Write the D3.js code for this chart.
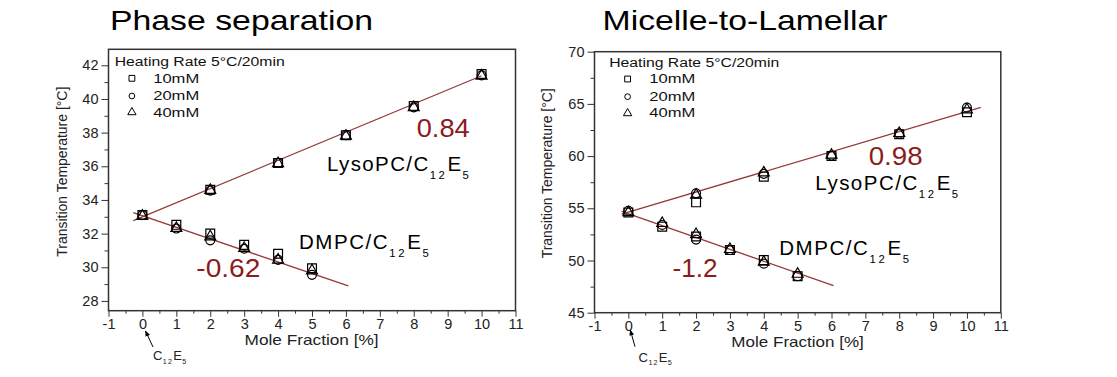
<!DOCTYPE html>
<html>
<head>
<meta charset="utf-8">
<script src="https://cdn.jsdelivr.net/npm/d3@7"></script>
<style>
body { margin: 0; background: #fff; }
svg { display: block; }
text { font-family: "Liberation Sans", Arial, sans-serif; }
</style>
</head>
<body>
<script>
var w = 1117;
var h = 377;

// mole fraction positions (%)
var lysoX = [0, 2, 4, 6, 8, 10];
var dmpcX = [1, 2, 3, 4, 5];
var xTicks = d3.range(-1, 12);
var xMinor = d3.range(-0.5, 11, 1);
var seriesNames = ["10mM", "20mM", "40mM"];

// Phase separation (left)
var sepLyso10 = [33.1, 34.6, 36.2, 37.85, 39.58, 41.48];
var sepLyso20 = [33.1, 34.55, 36.2, 37.85, 39.5, 41.4];
var sepLyso40 = [33.05, 34.58, 36.17, 37.8, 39.5, 41.37];
var sepDmpc10 = [32.52, 32.0, 31.33, 30.8, 29.94];
var sepDmpc20 = [32.3, 31.6, 31.1, 30.44, 29.55];
var sepDmpc40 = [32.32, 31.82, 31.13, 30.44, 29.8];
var sepLysoFit = [[-0.27, 32.77], [10, 41.38]];
var sepDmpcFit = [[-0.27, 33.25], [6.07, 28.89]];
var sepYTicks = d3.range(28, 43, 2);
var sepYMinor = d3.range(29, 43, 2);

// Micelle-to-Lamellar (right)
var micLyso10 = [54.6, 55.57, 58.03, 60.0, 62.1, 64.2];
var micLyso20 = [54.77, 56.43, 58.3, 60.05, 62.15, 64.64];
var micLyso40 = [54.6, 56.27, 58.41, 60.1, 62.18, 64.45];
var micDmpc10 = [53.24, 52.3, 51.0, 50.04, 48.5];
var micDmpc20 = [53.4, 52.0, 51.0, 49.7, 48.5];
var micDmpc40 = [53.56, 52.5, 51.07, 49.85, 48.7];
var micLysoFit = [[-0.2, 54.45], [10.41, 64.67]];
var micDmpcFit = [[-0.2, 54.7], [6.06, 47.59]];
var micYTicks = d3.range(45, 71, 5);
var micYMinor = d3.range(47.5, 70, 5);

var svg = d3.select("body").append("svg")
    .attr("width", w)
    .attr("height", h);

svg.append("defs").append("marker")
    .attr("id", "arrow")
    .attr("viewBox", "0 0 10 10")
    .attr("refX", 9).attr("refY", 5)
    .attr("markerWidth", 6).attr("markerHeight", 6)
    .attr("orient", "auto")
    .append("path")
    .attr("d", "M0,1 L10,5 L0,9 Z")
    .attr("fill", "#000");

var symbols = [d3.symbolSquare, d3.symbolCircle, d3.symbolTriangle];
var plotSizes = [78, 62, 52];
var legendSizes = [34, 26, 30];

// text with subscripts at odd positions
function formula(g, x, y, size, parts, len, subDy) {
    var t = g.append("text").attr("x", x).attr("y", y).attr("font-size", size).attr("fill", "#000");
    parts.forEach(function(s, i) {
        var sub = i % 2 === 1;
        t.append("tspan").text(s)
            .attr("font-size", sub ? size * 0.55 : size)
            .attr("dy", sub ? subDy : (i > 0 ? -subDy : 0))
            .attr("letter-spacing", sub ? size * 0.06 : 0);
    });
    if (len) t.attr("textLength", len).attr("lengthAdjust", "spacing");
    return t;
}

function styleAxis(a) {
    a.select(".domain").remove();
    a.attr("font-size", 14.5).attr("font-family", "Liberation Sans");
    a.selectAll("text").attr("fill", "#222");
}

function drawPanel(p) {
    var x = d3.scaleLinear().domain([-1, 11]).range([p.left, p.right]);
    var y = d3.scaleLinear().domain(p.yDomain).range([p.bottom, p.top]);
    var g = svg.append("g");

    // title
    g.append("text")
        .attr("x", p.titleX).attr("y", 30)
        .attr("font-family", "DejaVu Sans")
        .attr("font-size", 28)
        .attr("textLength", p.titleLen)
        .attr("lengthAdjust", "spacingAndGlyphs")
        .text(p.title);

    // axes
    var axisColor = "#333";
    g.append("g").attr("transform", "translate(0," + p.bottom + ")")
        .attr("color", axisColor)
        .call(d3.axisBottom(x).tickValues(xMinor).tickSize(3).tickFormat(""))
        .call(styleAxis);
    g.append("g").attr("transform", "translate(0," + p.bottom + ")")
        .attr("color", axisColor)
        .call(d3.axisBottom(x).tickValues(xTicks).tickSize(6).tickPadding(2).tickFormat(function(d) { return String(d); }))
        .call(styleAxis);
    g.append("g").attr("transform", "translate(" + p.left + ",0)")
        .attr("color", axisColor)
        .call(d3.axisLeft(y).tickValues(p.yMinor).tickSize(4).tickFormat(""))
        .call(styleAxis);
    g.append("g").attr("transform", "translate(" + p.left + ",0)")
        .attr("color", axisColor)
        .call(d3.axisLeft(y).tickValues(p.yTicks).tickSize(7).tickPadding(3).tickFormat(function(d) { return String(d); }))
        .call(styleAxis);

    g.append("rect")
        .attr("x", p.left).attr("y", p.top)
        .attr("width", p.right - p.left).attr("height", p.bottom - p.top)
        .attr("fill", "none").attr("stroke", axisColor).attr("stroke-width", 1.5);

    // axis titles
    g.append("text")
        .attr("transform", "translate(" + p.yLabel[0] + "," + p.yLabel[1] + ") rotate(-90)")
        .attr("text-anchor", "middle").attr("dy", "0.35em")
        .attr("font-size", 14).attr("fill", "#222")
        .attr("textLength", 170).attr("lengthAdjust", "spacingAndGlyphs")
        .text("Transition Temperature [°C]");
    g.append("text")
        .attr("x", p.xLabel[0]).attr("y", p.xLabel[1])
        .attr("text-anchor", "middle")
        .attr("font-size", 15).attr("fill", "#222")
        .attr("textLength", p.xLabel[2]).attr("lengthAdjust", "spacingAndGlyphs")
        .text("Mole Fraction [%]");

    // C12E5 pointer
    g.append("line")
        .attr("x1", p.arrow[0]).attr("y1", p.arrow[1])
        .attr("x2", p.arrow[2]).attr("y2", p.arrow[3])
        .attr("stroke", "#000").attr("stroke-width", 1)
        .attr("marker-end", "url(#arrow)");
    formula(g, p.pure[0], p.pure[1], 13, ["C", "12", "E", "5"], 34, 3.5).attr("fill", "#222");

    // fit lines
    var line = d3.line().x(function(d) { return x(d[0]); }).y(function(d) { return y(d[1]); });
    [p.lysoFit, p.dmpcFit].forEach(function(f) {
        g.append("path").attr("d", line(f))
            .attr("fill", "none").attr("stroke", "#963838").attr("stroke-width", 1.3);
    });

    // markers
    function drawSeries(xs, sets) {
        sets.forEach(function(vals, k) {
            g.selectAll(null)
                .data(vals.map(function(v, i) { return [xs[i], v]; }))
                .enter().append("path")
                .attr("d", d3.symbol().type(symbols[k]).size(plotSizes[k]))
                .attr("transform", function(d) { return "translate(" + x(d[0]) + "," + y(d[1]) + ")"; })
                .attr("fill", "none").attr("stroke", "#000").attr("stroke-width", 1.2);
        });
    }
    drawSeries(lysoX, p.lyso);
    drawSeries(dmpcX, p.dmpc);

    // legend
    g.append("text")
        .attr("x", p.legend.x).attr("y", p.legend.y)
        .attr("font-size", 12).attr("fill", "#111")
        .attr("textLength", 170).attr("lengthAdjust", "spacingAndGlyphs")
        .text("Heating Rate 5°C/20min");
    seriesNames.forEach(function(name, k) {
        g.append("path")
            .attr("d", d3.symbol().type(symbols[k]).size(legendSizes[k]))
            .attr("transform", "translate(" + p.legend.sx + "," + p.legend.sy[k] + ")")
            .attr("fill", "none").attr("stroke", "#000").attr("stroke-width", 1);
        g.append("text")
            .attr("x", p.legend.tx).attr("y", p.legend.ty[k])
            .attr("font-size", 12).attr("fill", "#111")
            .attr("textLength", 46).attr("lengthAdjust", "spacingAndGlyphs")
            .text(name);
    });

    // annotations
    var red = "#8b1c1c";
    g.append("text").attr("x", p.slope1[0]).attr("y", p.slope1[1])
        .attr("font-size", 25).attr("fill", red)
        .attr("textLength", p.slope1[2]).attr("lengthAdjust", "spacingAndGlyphs")
        .text(p.slopeText[0]);
    g.append("text").attr("x", p.slope2[0]).attr("y", p.slope2[1])
        .attr("font-size", 25).attr("fill", red)
        .attr("textLength", p.slope2[2]).attr("lengthAdjust", "spacingAndGlyphs")
        .text(p.slopeText[1]);
    formula(g, p.lysoLabel[0], p.lysoLabel[1], 20.5, ["LysoPC/C", "12", "E", "5"], p.lysoLabel[2], 8);
    formula(g, p.dmpcLabel[0], p.dmpcLabel[1], 20.5, ["DMPC/C", "12", "E", "5"], p.dmpcLabel[2], 8);
}

drawPanel({
    title: "Phase separation", titleX: 110, titleLen: 263,
    left: 108.5, right: 515.5, top: 49.3, bottom: 310.7,
    yDomain: [27.42, 42.95], yTicks: sepYTicks, yMinor: sepYMinor,
    yLabel: [62, 171.7], xLabel: [311.6, 345, 134],
    arrow: [153, 347, 145.5, 331], pure: [153, 360],
    lyso: [sepLyso10, sepLyso20, sepLyso40], dmpc: [sepDmpc10, sepDmpc20, sepDmpc40],
    lysoFit: sepLysoFit, dmpcFit: sepDmpcFit,
    legend: { x: 114.7, y: 65.7, sx: 131.9, sy: [78.3, 96, 112.3], tx: 153.2, ty: [82.7, 100, 116.7] },
    slopeText: ["0.84", "-0.62"],
    slope1: [416.7, 136.7, 53], slope2: [196.3, 276.7, 64],
    lysoLabel: [327, 170.7, 143], dmpcLabel: [299, 249.3, 131]
});

drawPanel({
    title: "Micelle-to-Lamellar", titleX: 602.6, titleLen: 285,
    left: 594.5, right: 1000.8, top: 51.7, bottom: 312.7,
    yDomain: [45, 70], yTicks: micYTicks, yMinor: micYMinor,
    yLabel: [547.4, 173.3], xLabel: [797.6, 346.7, 132.5],
    arrow: [635, 346.7, 630.3, 330], pure: [638.6, 361.7],
    lyso: [micLyso10, micLyso20, micLyso40], dmpc: [micDmpc10, micDmpc20, micDmpc40],
    lysoFit: micLysoFit, dmpcFit: micDmpcFit,
    legend: { x: 609.2, y: 66.7, sx: 627.6, sy: [79, 96.7, 113.3], tx: 649.3, ty: [83.3, 101, 117.3] },
    slopeText: ["0.98", "-1.2"],
    slope1: [868.7, 165, 54], slope2: [672.5, 276.7, 45],
    lysoLabel: [815.3, 190, 144], dmpcLabel: [779.2, 255, 131]
});
</script>
</body>
</html>
